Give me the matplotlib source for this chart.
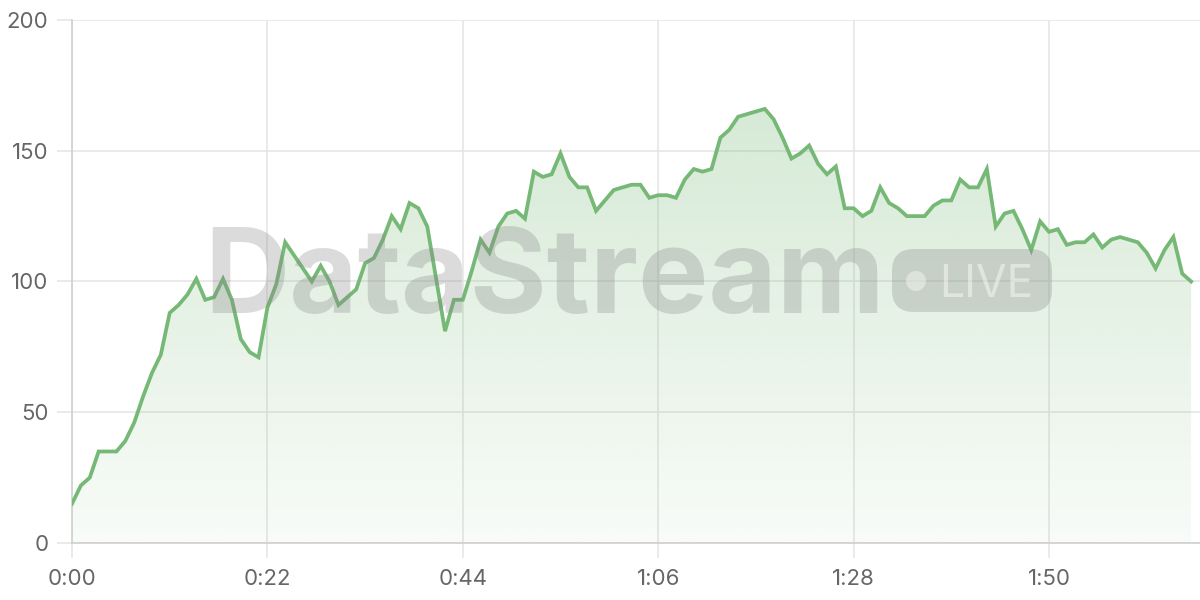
import numpy as np
import matplotlib
matplotlib.use('Agg')
import matplotlib.pyplot as plt
from matplotlib.patches import FancyBboxPatch, Circle

# values sampled once per minute
minutes = np.arange(127)
values = [15, 22, 25, 35, 35, 35, 39, 46, 56, 65, 72, 88, 91, 95, 101, 93, 94, 101, 93, 78,
          73, 71, 90, 99, 115, 110, 105, 100, 106, 100, 91, 94, 97, 107, 109, 116, 125, 120, 130, 128,
          121, 101, 81, 93, 93, 104, 116, 111, 121, 126, 127, 124, 142, 140, 141, 149, 140, 136, 136, 127,
          131, 135, 136, 137, 137, 132, 133, 133, 132, 139, 143, 142, 143, 155, 158, 163, 164, 165, 166, 162,
          155, 147, 149, 152, 145, 141, 144, 128, 128, 125, 127, 136, 130, 128, 125, 125, 125, 129, 131, 131,
          139, 136, 136, 143, 121, 126, 127, 120, 112, 123, 119, 120, 114, 115, 115, 118, 113, 116, 117, 116,
          115, 111, 105, 112, 117, 103, 100]
x_ticks = [0, 22, 44, 66, 88, 110]
x_labels = ['0:00', '0:22', '0:44', '1:06', '1:28', '1:50']
y_ticks = [0, 50, 100, 150, 200]

green = '#76b876'
grid_c = '#e6e6e6'
text_c = '#666666'
plt.rcParams['font.family'] = ['Inter', 'DejaVu Sans']

fig = plt.figure(figsize=(12, 6), dpi=100)
ax = fig.add_axes([0.06, 0.095, 0.94, 0.8717])
ax.set_xlim(0, 127)
ax.set_ylim(0, 200)

# gradient fill under the line
poly = ax.fill_between(minutes, values, 0, color='none', lw=0)
grad = np.linspace(0.05, 0.35, 256).reshape(-1, 1)
rgba = np.zeros((256, 1, 4))
rgba[..., :3] = matplotlib.colors.to_rgb(green)
rgba[..., 3] = grad
im = ax.imshow(rgba, extent=[0, 127, 0, 200], origin='lower', aspect='auto', zorder=1)
im.set_clip_path(poly.get_paths()[0], transform=ax.transData)

ax.plot(minutes, values, color=green, lw=2.7, zorder=4, solid_joinstyle='miter')

# watermark
fig.text(545 / 1200, 1 - 313 / 600, 'DataStream', ha='center', va='baseline',
         fontsize=85, fontweight='bold', color='#888888', alpha=0.3, zorder=3)
pill = FancyBboxPatch((892, 600 - 312), 160, 63, boxstyle='round,pad=0,rounding_size=22',
                      transform=None, facecolor='#888888', alpha=0.3, edgecolor='none', zorder=3)
fig.patches.append(pill)
fig.patches.append(Circle((916, 600 - 281), 10, transform=None, facecolor='white', alpha=0.4, zorder=3))
fig.text(986 / 1200, 1 - 297 / 600, 'LIVE', ha='center', va='baseline', fontsize=32,
         color='white', alpha=0.45, zorder=3)

ax.set_xticks(x_ticks)
ax.set_xticklabels(x_labels)
ax.set_yticks(y_ticks)
ax.grid(color=grid_c, lw=1.2, zorder=0)
ax.set_axisbelow(True)
ax.tick_params(axis='both', length=11, width=1.2, color=grid_c, labelcolor=text_c, labelsize=16)
ax.tick_params(axis='x', pad=8)
ax.tick_params(axis='y', pad=6)
for s in ['top', 'right']:
    ax.spines[s].set_visible(False)
ax.spines['left'].set_color('#d0d0d0')
ax.spines['bottom'].set_color('#d0d0d0')
ax.spines['left'].set_linewidth(1.2)
ax.spines['bottom'].set_linewidth(1.2)

fig.savefig('out.png', dpi=100)
